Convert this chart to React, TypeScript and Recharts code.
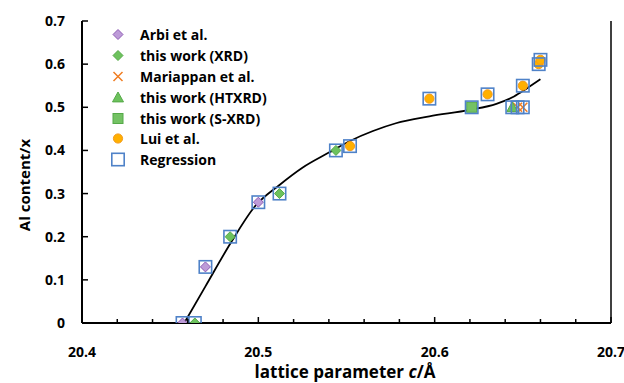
import { ComposedChart, Scatter, Line, XAxis, YAxis, ReferenceLine, Legend } from "recharts";

// values
const arbiX = [20.457, 20.47, 20.5];
const arbiY = [0, 0.13, 0.28];
const xrdX = [20.464, 20.484, 20.512, 20.544];
const xrdY = [0, 0.2, 0.3, 0.4];
const mariX = [20.647, 20.65];
const mariY = [0.5, 0.5];
const htX = [20.644];
const htY = [0.5];
const sxX = [20.621];
const sxY = [0.5];
const luiX = [20.552, 20.597, 20.63, 20.65, 20.659, 20.66];
const luiY = [0.41, 0.52, 0.53, 0.55, 0.6, 0.61];
const regX = [20.457, 20.464, 20.47, 20.484, 20.5, 20.512, 20.544, 20.552, 20.597, 20.621, 20.63, 20.644, 20.647, 20.65, 20.65, 20.659, 20.66];
const regY = [0, 0, 0.13, 0.2, 0.28, 0.3, 0.4, 0.41, 0.52, 0.5, 0.53, 0.5, 0.5, 0.5, 0.55, 0.6, 0.61];
const fitX = [20.458, 20.47, 20.485, 20.498, 20.512, 20.525, 20.54, 20.552, 20.565, 20.578, 20.597, 20.62, 20.635, 20.645, 20.652, 20.66];
const fitY = [0, 0.085, 0.19, 0.27, 0.32, 0.36, 0.395, 0.422, 0.445, 0.463, 0.479, 0.494, 0.508, 0.525, 0.543, 0.565];

const xTicks = [20.4, 20.42, 20.44, 20.46, 20.48, 20.5, 20.52, 20.54, 20.56, 20.58, 20.6, 20.62, 20.64, 20.66, 20.68, 20.7];
const yTicks = [0, 0.1, 0.2, 0.3, 0.4, 0.5, 0.6, 0.7];

const zip = (xs: number[], ys: number[]) => xs.map((x, i) => ({ x, y: ys[i] }));

const arbi = zip(arbiX, arbiY);
const xrd = zip(xrdX, xrdY);
const mari = zip(mariX, mariY);
const ht = zip(htX, htY);
const sx = zip(sxX, sxY);
const lui = zip(luiX, luiY);
const reg = zip(regX, regY);
const fit = zip(fitX, fitY);

const FONT = "'Open Sans', Lato, sans-serif";
const BLUE = "#4f82c8";

type Kind = "arbi" | "xrd" | "mari" | "ht" | "sx" | "lui" | "reg";

const legendItems: { kind: Kind; label: string }[] = [
  { kind: "arbi", label: "Arbi et al." },
  { kind: "xrd", label: "this work (XRD)" },
  { kind: "mari", label: "Mariappan et al." },
  { kind: "ht", label: "this work (HTXRD)" },
  { kind: "sx", label: "this work (S-XRD)" },
  { kind: "lui", label: "Lui et al." },
  { kind: "reg", label: "Regression" },
];

function Marker({ kind, cx, cy }: { kind: Kind; cx: number; cy: number }) {
  if (kind === "arbi" || kind === "xrd") {
    const r = 5;
    const fill = kind === "arbi" ? "#bd9bd8" : "#6dc25d";
    const stroke = kind === "arbi" ? "#8e5cb4" : "#55a948";
    return (
      <path
        d={`M${cx},${cy - r}L${cx + r},${cy}L${cx},${cy + r}L${cx - r},${cy}Z`}
        fill={fill}
        stroke={stroke}
        strokeWidth={1}
      />
    );
  }
  if (kind === "mari") {
    const r = 4.5;
    return (
      <path
        d={`M${cx - r},${cy - r}L${cx + r},${cy + r}M${cx + r},${cy - r}L${cx - r},${cy + r}`}
        stroke="#f07d22"
        strokeWidth={1.5}
      />
    );
  }
  if (kind === "ht") {
    const r = 5.5;
    return (
      <path
        d={`M${cx},${cy - r}L${cx + r},${cy + r * 0.8}L${cx - r},${cy + r * 0.8}Z`}
        fill="#6dc25d"
        stroke="#55a948"
        strokeWidth={1}
      />
    );
  }
  if (kind === "sx") {
    return <rect x={cx - 5} y={cy - 5} width={10} height={10} fill="#74c264" stroke="#55a948" strokeWidth={1} />;
  }
  if (kind === "lui") {
    return <circle cx={cx} cy={cy} r={4.6} fill="#ffb000" stroke="#f39a1c" strokeWidth={1} />;
  }
  return <rect x={cx - 6.2} y={cy - 6.2} width={12.4} height={12.4} fill="none" stroke={BLUE} strokeWidth={1.6} />;
}

const shapeOf = (kind: Kind) => (p: any) => <Marker kind={kind} cx={p.cx} cy={p.cy} />;

function LegendBox() {
  return (
    <div style={{ fontFamily: FONT, fontWeight: 700, fontSize: 14, color: "#000" }}>
      {legendItems.map((it) => (
        <div key={it.kind} style={{ display: "flex", alignItems: "center", height: 20.9 }}>
          <svg width={20} height={21} style={{ overflow: "visible" }}>
            <Marker kind={it.kind} cx={10} cy={10.5} />
          </svg>
          <span style={{ marginLeft: 12, whiteSpace: "nowrap" }}>{it.label}</span>
        </div>
      ))}
    </div>
  );
}

function XTick(props: any) {
  const { x, y, payload } = props;
  const v = payload.value as number;
  const major = Math.abs(v * 10 - Math.round(v * 10)) < 1e-6;
  return (
    <g>
      <line x1={x} x2={x} y1={y} y2={y - (major ? 6 : 4)} stroke="#000" strokeWidth={1.5} />
      {major && (
        <text x={x} y={y + 34} textAnchor="middle" fontFamily={FONT} fontWeight={700} fontSize={14} fill="#000">
          {v.toFixed(1)}
        </text>
      )}
    </g>
  );
}

function YTick(props: any) {
  const { x, y, payload } = props;
  const v = payload.value as number;
  return (
    <g>
      <line x1={x + 17} x2={x + 23} y1={y} y2={y} stroke="#000" strokeWidth={1.5} />
      <text x={x} y={y + 5} textAnchor="end" fontFamily={FONT} fontWeight={700} fontSize={14} fill="#000">
        {v === 0 ? "0" : v.toFixed(1)}
      </text>
    </g>
  );
}

export default function App() {
  return (
    <div style={{ position: "absolute", left: 0, top: 0, width: 624, height: 383, background: "#fff" }}>
      <ComposedChart width={624} height={383} margin={{ top: 21, right: 13, bottom: 0, left: 0 }}>
        <XAxis
          dataKey="x"
          type="number"
          domain={[20.4, 20.7]}
          ticks={xTicks}
          interval={0}
          tick={<XTick />}
          tickLine={false}
          tickSize={0}
          tickMargin={0}
          axisLine={{ stroke: "#000", strokeWidth: 2.2 }}
          height={60}
          allowDataOverflow
        />
        <YAxis
          dataKey="y"
          type="number"
          domain={[0, 0.7]}
          ticks={yTicks}
          interval={0}
          tick={<YTick />}
          tickLine={false}
          tickSize={0}
          tickMargin={17}
          axisLine={{ stroke: "#000", strokeWidth: 2 }}
          width={82}
          allowDataOverflow
        />
        <ReferenceLine x={20.7} stroke="#000" strokeWidth={1.5} />
        <Legend
          layout="vertical"
          align="center"
          verticalAlign="middle"
          wrapperStyle={{ position: "absolute", left: 108, top: 24, width: 220 }}
          content={<LegendBox />}
        />
        <Scatter name="Arbi et al." data={arbi} dataKey="y" shape={shapeOf("arbi")} isAnimationActive={false} />
        <Scatter name="this work (XRD)" data={xrd} dataKey="y" shape={shapeOf("xrd")} isAnimationActive={false} />
        <Scatter name="Mariappan et al." data={mari} dataKey="y" shape={shapeOf("mari")} isAnimationActive={false} />
        <Scatter name="this work (HTXRD)" data={ht} dataKey="y" shape={shapeOf("ht")} isAnimationActive={false} />
        <Scatter name="this work (S-XRD)" data={sx} dataKey="y" shape={shapeOf("sx")} isAnimationActive={false} />
        <Scatter name="Lui et al." data={lui} dataKey="y" shape={shapeOf("lui")} isAnimationActive={false} />
        <Scatter name="Regression" data={reg} dataKey="y" shape={shapeOf("reg")} isAnimationActive={false} />
        <Line
          data={fit}
          dataKey="y"
          type="monotone"
          stroke="#000"
          strokeWidth={1.8}
          dot={false}
          legendType="none"
          isAnimationActive={false}
        />
      </ComposedChart>
      <div
        style={{
          position: "absolute",
          left: 12,
          top: 185,
          transform: "translate(-50%, -50%) rotate(-90deg)",
          transformOrigin: "center",
          marginLeft: 12,
          fontFamily: FONT,
          fontWeight: 700,
          fontSize: 15,
          whiteSpace: "nowrap",
        }}
      >
        Al content/x
      </div>
      <div
        style={{
          position: "absolute",
          left: 0,
          width: 690,
          top: 360,
          textAlign: "center",
          fontFamily: FONT,
          fontWeight: 700,
          fontSize: 17,
          whiteSpace: "nowrap",
        }}
      >
        lattice parameter <i>c</i>/Å
      </div>
    </div>
  );
}
